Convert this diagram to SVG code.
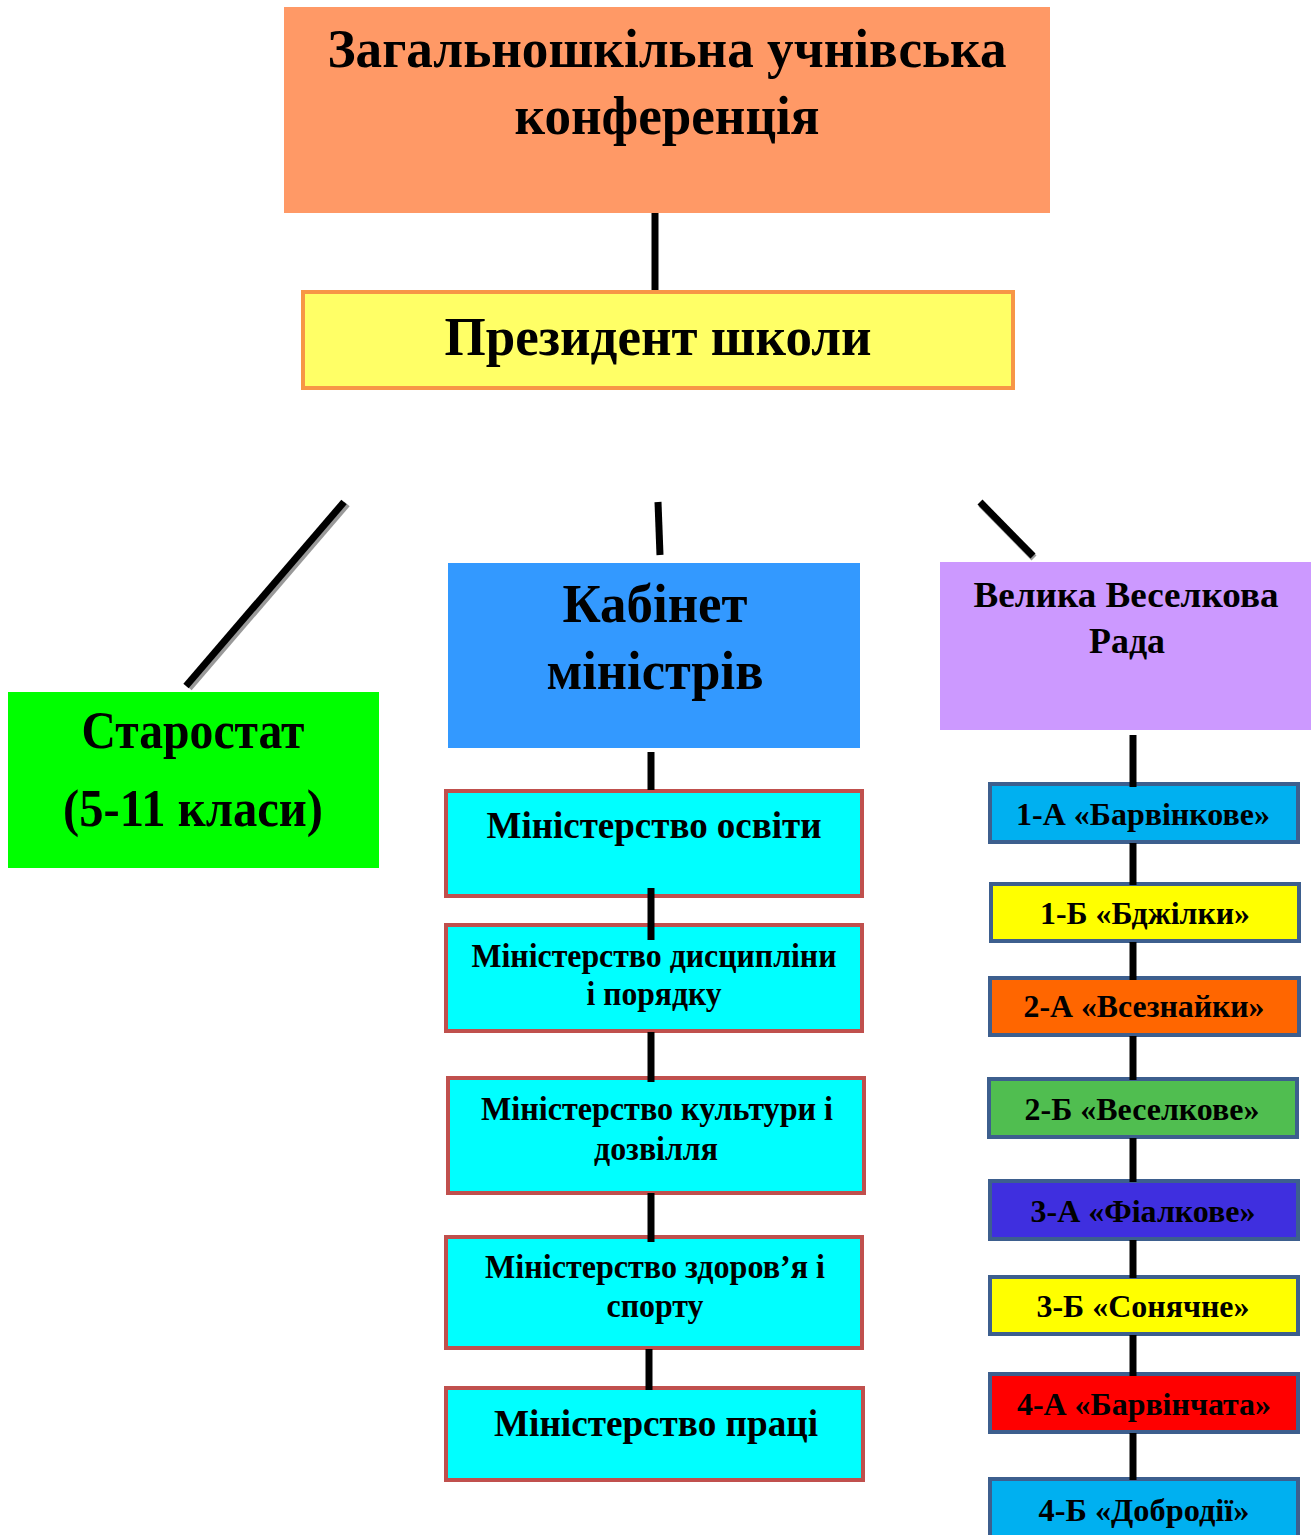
<svg xmlns="http://www.w3.org/2000/svg" width="1311" height="1535" viewBox="0 0 1311 1535">
<style>
text{font-family:"Liberation Serif","Times New Roman",serif;font-weight:bold;fill:#000;text-anchor:middle}
.min{fill:#00FFFF;stroke:#C0504D;stroke-width:4}
.cls{stroke:#3D5F8E;stroke-width:4}
.ln{stroke:#000;stroke-width:7;fill:none}
.sh{stroke:#999;stroke-width:7;fill:none}
.t54{font-size:54px}
.t52{font-size:52px}
.t36{font-size:36px}
.t37{font-size:37px}
.t32{font-size:32px}
.t33{font-size:33px}
</style>
<rect width="1311" height="1535" fill="#fff"/>
<g id="conference">
<rect x="284" y="7" width="766" height="206" fill="#FF9966"/>
<text class="t54" x="667" y="67" textLength="679" lengthAdjust="spacingAndGlyphs">Загальношкільна учнівська</text>
<text class="t54" x="667" y="134" textLength="305" lengthAdjust="spacingAndGlyphs">конференція</text>
</g>
<g id="president">
<rect x="303" y="292" width="710" height="96" fill="#FFFF66" stroke="#F79646" stroke-width="4"/>
<text class="t54" x="658" y="355" textLength="427" lengthAdjust="spacingAndGlyphs">Президент школи</text>
</g>
<g id="starostat">
<rect x="8" y="692" width="371" height="176" fill="#00FF00"/>
<text class="t52" x="193" y="748" textLength="223" lengthAdjust="spacingAndGlyphs">Старостат</text>
<text class="t52" x="193" y="826" textLength="260" lengthAdjust="spacingAndGlyphs">(5-11 класи)</text>
</g>
<g id="cabinet">
<rect x="448" y="563" width="412" height="185" fill="#3399FF"/>
<text class="t54" x="655" y="622" textLength="185" lengthAdjust="spacingAndGlyphs">Кабінет</text>
<text class="t54" x="655" y="689" textLength="217" lengthAdjust="spacingAndGlyphs">міністрів</text>
</g>
<g id="rada">
<rect x="940" y="562" width="371" height="168" fill="#CC99FF"/>
<text class="t36" x="1126" y="607" textLength="305" lengthAdjust="spacingAndGlyphs">Велика Веселкова</text>
<text class="t36" x="1127" y="653" textLength="76" lengthAdjust="spacingAndGlyphs">Рада</text>
</g>
<g id="min-osvity">
<rect class="min" x="446" y="791" width="416" height="105"/>
<text class="t37" x="654" y="838" textLength="335" lengthAdjust="spacingAndGlyphs">Міністерство освіти</text>
</g>
<g id="min-dyscypliny">
<rect class="min" x="446" y="925" width="416" height="106"/>
<text class="t33" x="654" y="967" textLength="365" lengthAdjust="spacingAndGlyphs">Міністерство дисципліни</text>
<text class="t33" x="654" y="1005" textLength="135" lengthAdjust="spacingAndGlyphs">і порядку</text>
</g>
<g id="min-kultury">
<rect class="min" x="448" y="1078" width="416" height="115"/>
<text class="t33" x="657" y="1120" textLength="352" lengthAdjust="spacingAndGlyphs">Міністерство культури і</text>
<text class="t33" x="656" y="1160" textLength="124" lengthAdjust="spacingAndGlyphs">дозвілля</text>
</g>
<g id="min-zdorovya">
<rect class="min" x="446" y="1237" width="416" height="111"/>
<text class="t33" x="655" y="1278" textLength="340" lengthAdjust="spacingAndGlyphs">Міністерство здоров’я і</text>
<text class="t33" x="655" y="1317" textLength="97" lengthAdjust="spacingAndGlyphs">спорту</text>
</g>
<g id="min-praci">
<rect class="min" x="446" y="1388" width="417" height="92"/>
<text class="t37" x="656" y="1436" textLength="324" lengthAdjust="spacingAndGlyphs">Міністерство праці</text>
</g>
<g id="c1a">
<rect class="cls" x="990" y="784" width="308" height="58" fill="#00B0F0" stroke="#5582B8"/>
<text class="t32" x="1143" y="825" textLength="254" lengthAdjust="spacingAndGlyphs">1-А «Барвінкове»</text>
</g>
<g id="c1b">
<rect class="cls" x="991" y="884" width="308" height="57" fill="#FFFF00"/>
<text class="t32" x="1145" y="924" textLength="210" lengthAdjust="spacingAndGlyphs">1-Б «Бджілки»</text>
</g>
<g id="c2a">
<rect class="cls" x="990" y="978" width="309" height="57" fill="#FF6600"/>
<text class="t32" x="1144" y="1017" textLength="241" lengthAdjust="spacingAndGlyphs">2-А «Всезнайки»</text>
</g>
<g id="c2b">
<rect class="cls" x="989" y="1079" width="308" height="58" fill="#50BE50"/>
<text class="t32" x="1142" y="1120" textLength="235" lengthAdjust="spacingAndGlyphs">2-Б «Веселкове»</text>
</g>
<g id="c3a">
<rect class="cls" x="990" y="1181" width="308" height="58" fill="#3F2FDF"/>
<text class="t32" x="1143" y="1222" textLength="225" lengthAdjust="spacingAndGlyphs">3-А «Фіалкове»</text>
</g>
<g id="c3b">
<rect class="cls" x="990" y="1277" width="308" height="57" fill="#FFFF00"/>
<text class="t32" x="1143" y="1317" textLength="213" lengthAdjust="spacingAndGlyphs">3-Б «Сонячне»</text>
</g>
<g id="c4a">
<rect class="cls" x="990" y="1374" width="308" height="58" fill="#FF0000"/>
<text class="t32" x="1144" y="1415" textLength="254" lengthAdjust="spacingAndGlyphs">4-А «Барвінчата»</text>
</g>
<g id="c4b">
<rect class="cls" x="990" y="1479" width="308" height="62" fill="#00B0F0"/>
<text class="t32" x="1144" y="1521" textLength="211" lengthAdjust="spacingAndGlyphs">4-Б «Добродії»</text>
</g>
<g id="connectors">
<line class="ln" x1="655" y1="213" x2="655" y2="290"/>
<line class="sh" x1="347" y1="504" x2="189" y2="688"/>
<line class="ln" x1="344" y1="502" x2="186" y2="686"/>
<line class="ln" x1="658" y1="502" x2="660" y2="555"/>
<line class="sh" x1="981" y1="504" x2="1034" y2="558"/>
<line class="ln" x1="980" y1="502" x2="1033" y2="556"/>
<line class="ln" x1="651" y1="752" x2="651" y2="790"/>
<line class="ln" x1="651" y1="888" x2="651" y2="940"/>
<line class="ln" x1="651" y1="1032" x2="651" y2="1082"/>
<line class="ln" x1="651" y1="1193" x2="651" y2="1242"/>
<line class="ln" x1="649" y1="1349" x2="649" y2="1390"/>
<line class="ln" x1="1133" y1="735" x2="1133" y2="787"/>
<line class="ln" x1="1133" y1="843" x2="1133" y2="885"/>
<line class="ln" x1="1133" y1="942" x2="1133" y2="980"/>
<line class="ln" x1="1133" y1="1036" x2="1133" y2="1080"/>
<line class="ln" x1="1133" y1="1138" x2="1133" y2="1182"/>
<line class="ln" x1="1133" y1="1240" x2="1133" y2="1278"/>
<line class="ln" x1="1133" y1="1335" x2="1133" y2="1376"/>
<line class="ln" x1="1133" y1="1433" x2="1133" y2="1480"/>
</g>
</svg>
